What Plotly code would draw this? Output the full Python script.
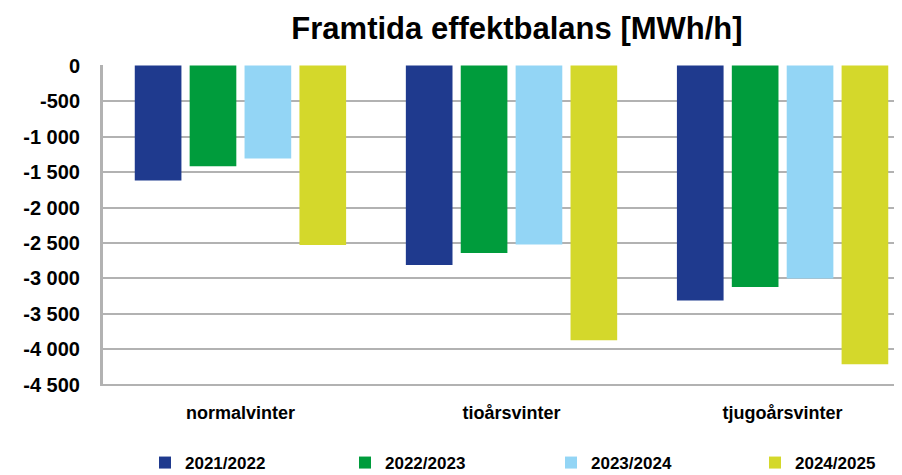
import plotly.graph_objects as go

categories = ["normalvinter", "tioårsvinter", "tjugoårsvinter"]
series_names = ["2021/2022", "2022/2023", "2023/2024", "2024/2025"]
v_2021_2022 = [-1620, -2810, -3310]
v_2022_2023 = [-1420, -2640, -3120]
v_2023_2024 = [-1310, -2520, -3000]
v_2024_2025 = [-2530, -3870, -4210]
colors = ["#1F3A8E", "#009C3C", "#93D5F5", "#D4D82B"]
tick_vals = [0, -500, -1000, -1500, -2000, -2500, -3000, -3500, -4000, -4500]
tick_text = ["0", "-500", "-1 000", "-1 500", "-2 000", "-2 500", "-3 000", "-3 500", "-4 000", "-4 500"]

FONT = "Liberation Sans, Arial, sans-serif"
OFF = 8  # page body margin offset
W, H = 902, 475
ML, MR, MT = 103 - OFF, 0, 65 - OFF
MB = H - (386 - OFF)
PW = W - ML - MR
PH = H - MT - MB

legend_px = [145, 345, 551, 755]  # left edge of each legend box, screenshot px

fig = go.Figure()
layout_legends = {}
for i, (name, vals, col) in enumerate(zip(series_names, [v_2021_2022, v_2022_2023, v_2023_2024, v_2024_2025], colors)):
    lg = "legend" if i == 0 else f"legend{i+1}"
    fig.add_trace(go.Bar(x=categories, y=vals, name=name, marker_color=col,
                         marker_line_width=0, legend=lg))
    layout_legends[lg] = dict(
        orientation="h", x=(legend_px[i] - OFF - ML) / PW, xanchor="left",
        y=-((463 - OFF) - (H - MB)) / PH, yanchor="middle",
        font=dict(family=FONT, size=17, color="black", weight="bold"),
        bgcolor="rgba(0,0,0,0)", borderwidth=0,
    )

fig.update_layout(
    width=W, height=H,
    margin=dict(l=ML, r=MR, t=MT, b=MB, autoexpand=False),
    paper_bgcolor="white", plot_bgcolor="white",
    barmode="group", bargap=0.19, bargroupgap=0.15,
    title=dict(text="<b>Framtida effektbalans [MWh/h]</b>", x=(517 - OFF) / W, xanchor="center",
               y=1 - (28 - OFF) / H, yanchor="middle",
               font=dict(family=FONT, size=31, color="black")),
    font=dict(family=FONT, color="black"),
    showlegend=True,
    **layout_legends,
)
fig.update_xaxes(range=[-0.507, 2.470], showgrid=False, showline=False, ticks="",
                 automargin=False,
                 tickfont=dict(family=FONT, size=18, color="black", weight="bold"),
                 ticklabelstandoff=14)
fig.update_yaxes(range=[-4515, 8], tickvals=tick_vals, ticktext=tick_text,
                 showgrid=True, gridcolor="#B2B2B2", gridwidth=2,
                 showline=True, linecolor="#B2B2B2", linewidth=3,
                 zeroline=False, ticks="outside", ticklen=16, tickcolor="rgba(0,0,0,0)",
                 ticklabelstandoff=0, automargin=False,
                 tickfont=dict(family=FONT, size=20, color="black", weight="bold"))

fig.write_html("out.html")
